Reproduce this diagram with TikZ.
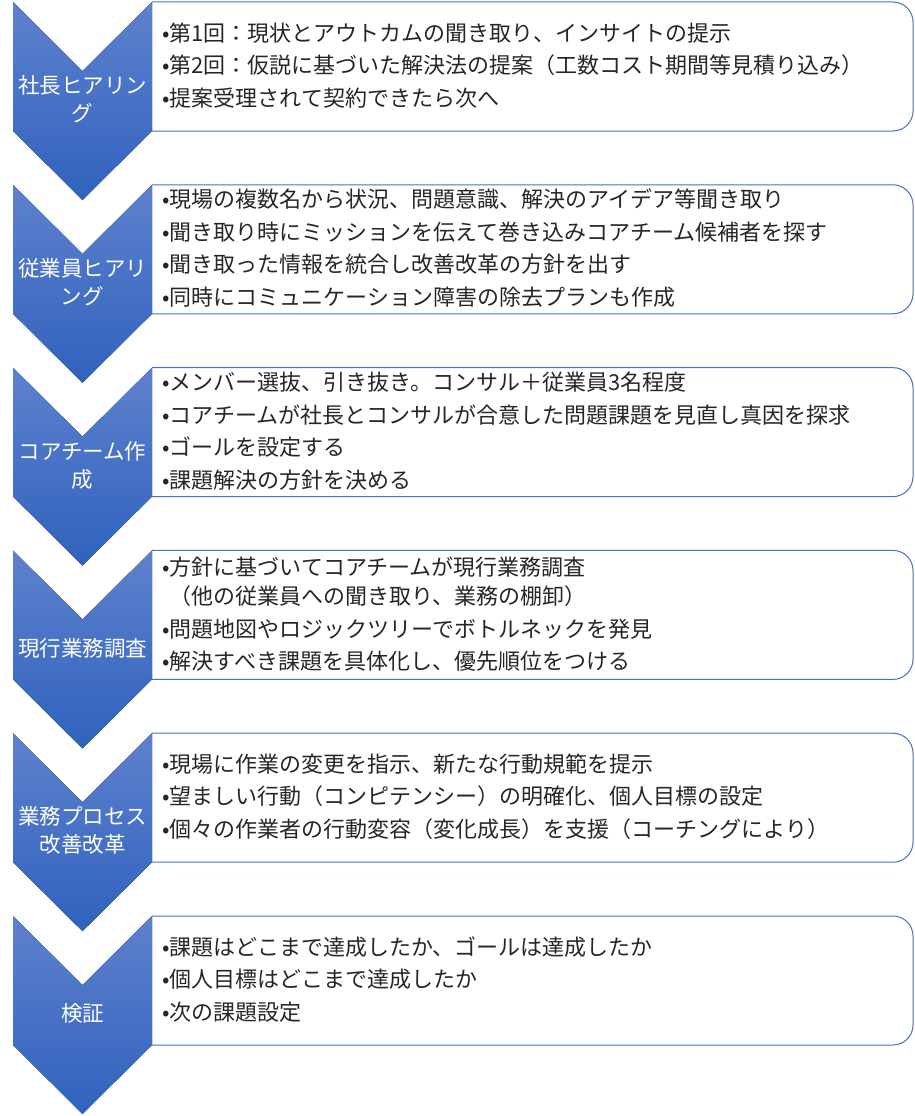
\documentclass[tikz,border=0pt]{standalone}
\usepackage{fontspec}
\newfontfamily\jp{Noto Sans CJK JP}
\definecolor{chevtop}{RGB}{94,129,205}
\definecolor{chevbot}{RGB}{48,98,190}
\definecolor{boxline}{RGB}{68,114,196}
\definecolor{ink}{RGB}{38,38,38}
\usetikzlibrary{calc}

\begin{document}
\begin{tikzpicture}[x=1pt,y=-1pt,
        chev/.style={top color=chevtop, bottom color=chevbot, draw=none},
        frame/.style={draw=boxline, line width=1pt, rounded corners=20pt},
        lab/.style={text=white, align=center, inner sep=0pt, font=\jp\fontsize{21.5}{28}\selectfont},
        txt/.style={text=ink, align=left, anchor=west, inner sep=0pt, font=\jp\fontsize{22}{32.5}\selectfont}]
        \useasboundingbox (0,0) rectangle (914,1116);

        \draw[frame] (152,2) -- (913,2) -- (913,131) -- (152,131);
        \draw[frame] (152,184.8) -- (913,184.8) -- (913,313.8) -- (152,313.8);
        \draw[frame] (152,367.6) -- (913,367.6) -- (913,496.6) -- (152,496.6);
        \draw[frame] (152,550.4) -- (913,550.4) -- (913,679.4) -- (152,679.4);
        \draw[frame] (152,733.2) -- (913,733.2) -- (913,862.2) -- (152,862.2);
        \draw[frame] (152,916) -- (913,916) -- (913,1045) -- (152,1045);

        \fill[chev] (13,2) -- (82.5,71) -- (152,2) -- (152,131) -- (82.5,200) -- (13,131) -- cycle;
        \fill[chev] (13,184.8) -- (82.5,253.8) -- (152,184.8) -- (152,313.8) -- (82.5,382.8) -- (13,313.8) -- cycle;
        \fill[chev] (13,367.6) -- (82.5,436.6) -- (152,367.6) -- (152,496.6) -- (82.5,565.6) -- (13,496.6) -- cycle;
        \fill[chev] (13,550.4) -- (82.5,619.4) -- (152,550.4) -- (152,679.4) -- (82.5,748.4) -- (13,679.4) -- cycle;
        \fill[chev] (13,733.2) -- (82.5,802.2) -- (152,733.2) -- (152,862.2) -- (82.5,931.2) -- (13,862.2) -- cycle;
        \fill[chev] (13,916) -- (82.5,985) -- (152,916) -- (152,1045) -- (82.5,1114) -- (13,1045) -- cycle;

        \node[lab] (shacho) at (82.5,99.5) {社長ヒアリン\\グ};
        \node[lab] (jugyoin) at (82.5,282.3) {従業員ヒアリ\\ング};
        \node[lab] (core) at (82.5,465.1) {コアチーム作\\成};
        \node[lab] (chosa) at (82.5,647.9) {現行業務調査};
        \node[lab] (kaizen) at (82.5,830.7) {業務プロセス\\改善改革};
        \node[lab] (kensho) at (82.5,1013.5) {検証};

        \node[txt] (shacho text) at (162,65.5) {•第1回：現状とアウトカムの聞き取り、インサイトの提示\\•第2回：仮説に基づいた解決法の提案（工数コスト期間等見積り込み）\\•提案受理されて契約できたら次へ};
        \node[txt] (jugyoin text) at (162,248.3) {•現場の複数名から状況、問題意識、解決のアイデア等聞き取り\\•聞き取り時にミッションを伝えて巻き込みコアチーム候補者を探す\\•聞き取った情報を統合し改善改革の方針を出す\\•同時にコミュニケーション障害の除去プランも作成};
        \node[txt] (core text) at (162,431.1) {•メンバー選抜、引き抜き。コンサル＋従業員3名程度\\•コアチームが社長とコンサルが合意した問題課題を見直し真因を探求\\•ゴールを設定する\\•課題解決の方針を決める};
        \node[txt] (chosa text) at (162,613.9) {•方針に基づいてコアチームが現行業務調査\\[-3pt]\hphantom{•}（他の従業員への聞き取り、業務の棚卸）\\•問題地図やロジックツリーでボトルネックを発見\\•解決すべき課題を具体化し、優先順位をつける};
        \node[txt] (kaizen text) at (162,796.7) {•現場に作業の変更を指示、新たな行動規範を提示\\•望ましい行動（コンピテンシー）の明確化、個人目標の設定\\•個々の作業者の行動変容（変化成長）を支援（コーチングにより）};
        \node[txt] (kensho text) at (162,979.5) {•課題はどこまで達成したか、ゴールは達成したか\\•個人目標はどこまで達成したか\\•次の課題設定};
\end{tikzpicture}
\end{document}
